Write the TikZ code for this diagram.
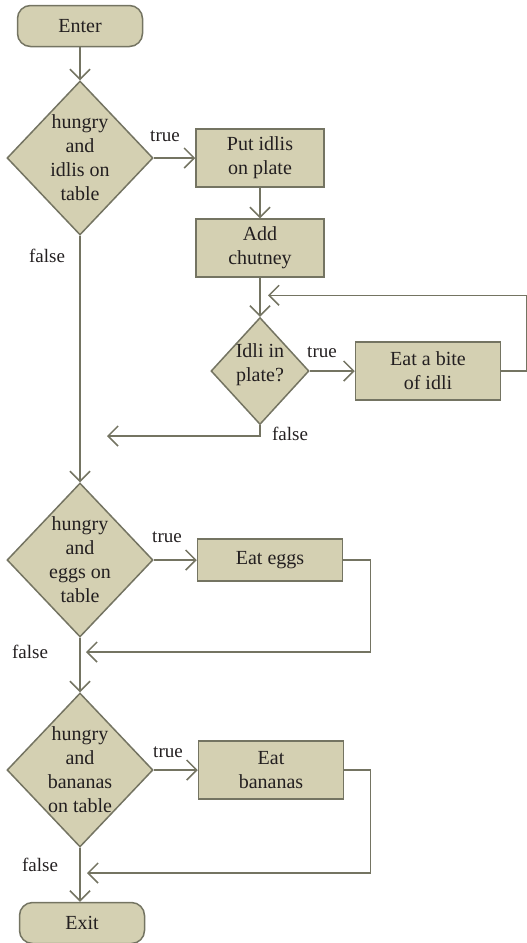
\documentclass[tikz,border=0pt]{standalone}
\usepackage{fontspec}
\setmainfont{Liberation Serif}
\usetikzlibrary{arrows.meta, positioning, shapes.geometric, calc}

\definecolor{boxfill}{RGB}{212,208,178}
\definecolor{boxedge}{RGB}{116,116,98}
\definecolor{ink}{RGB}{35,31,32}

\begin{document}
\begin{tikzpicture}[
        x=1pt, y=-1pt,
        every node/.style={font=\fontsize{20}{24}\selectfont, text=ink},
        terminal/.style={draw=boxedge, fill=boxfill, line width=1.5pt, rounded corners=13pt, minimum width=125pt, minimum height=41pt},
        process/.style={draw=boxedge, fill=boxfill, line width=1.5pt, minimum width=145pt, minimum height=58pt, align=center, inner sep=2pt},
        decision/.style={diamond, draw=boxedge, fill=boxfill, line width=1.5pt, minimum width=146pt, minimum height=154pt, inner sep=0pt},
        lbl/.style={font=\fontsize{19}{22}\selectfont},
        arrow/.style={-{Straight Barb[length=10pt, width=20pt]}, line width=1.5pt, draw=boxedge}
    ]
        \useasboundingbox (0,0) rectangle (527,943);

        % Start
        \node[terminal] (enter) at (80,26) {Enter};

        % Idlis
        \node[decision, label={[align=center]center:hungry\\and\\idlis on\\table}] (idlis) at (80,158) {};
        \node[process, minimum width=128pt] (plate) at (260,158) {Put idlis\\on plate};
        \node[process, minimum width=128pt] (chutney) at (260,248) {Add\\chutney};
        \node[decision, minimum width=98pt, minimum height=107pt, label={[align=center, yshift=6pt]center:Idli in\\plate?}] (inplate) at (260,371) {};
        \node[process] (bite) at (428,371) {Eat a bite\\of idli};

        % Eggs
        \node[decision, label={[align=center]center:hungry\\and\\eggs on\\table}] (eggs) at (80,560) {};
        \node[process, minimum height=42pt] (eateggs) at (270,560) {Eat eggs};

        % Bananas
        \node[decision, label={[align=center]center:hungry\\and\\bananas\\on table}] (bananas) at (80,770) {};
        \node[process] (eatbananas) at (271,770) {Eat\\bananas};

        % End
        \node[terminal] (exit) at (82,923) {Exit};

        % Loop ends
        \coordinate (backin) at ($(chutney.south)!0.45!(inplate.north)+(8,0)$);
        \coordinate (idliout) at (107,436);
        \coordinate (eggsback) at (86,652);
        \coordinate (bananasback) at (87,873);

        \draw[arrow] (enter) -- (idlis);
        \draw[arrow] (idlis) -- (plate);
        \draw[arrow] (plate) -- (chutney);
        \draw[arrow] (chutney) -- (inplate);
        \draw[arrow] (inplate) -- (bite);
        \draw[arrow] (bite.east) -- ++(25,0) |- (backin);
        \draw[arrow] (inplate.south) |- (idliout);
        \draw[arrow] (idlis) -- (eggs);
        \draw[arrow] (eggs) -- (eateggs);
        \draw[arrow] (eateggs.east) -- ++(27,0) |- (eggsback);
        \draw[arrow] (eggs) -- (bananas);
        \draw[arrow] (bananas) -- (eatbananas);
        \draw[arrow] (eatbananas.east) -- ++(26,0) |- (bananasback);
        \draw[arrow] (bananas.south) -- (bananas.south |- exit.north);

        % Labels
        \node[lbl] (t1) at (165,136) {true};
        \node[lbl] (f1) at (47,256) {false};
        \node[lbl] (t2) at (322,352) {true};
        \node[lbl] (f2) at (290,434) {false};
        \node[lbl] (t3) at (167,537) {true};
        \node[lbl] (f3) at (30,652) {false};
        \node[lbl] (t4) at (168,752) {true};
        \node[lbl] (f4) at (40,865) {false};

    \end{tikzpicture}
\end{document}
